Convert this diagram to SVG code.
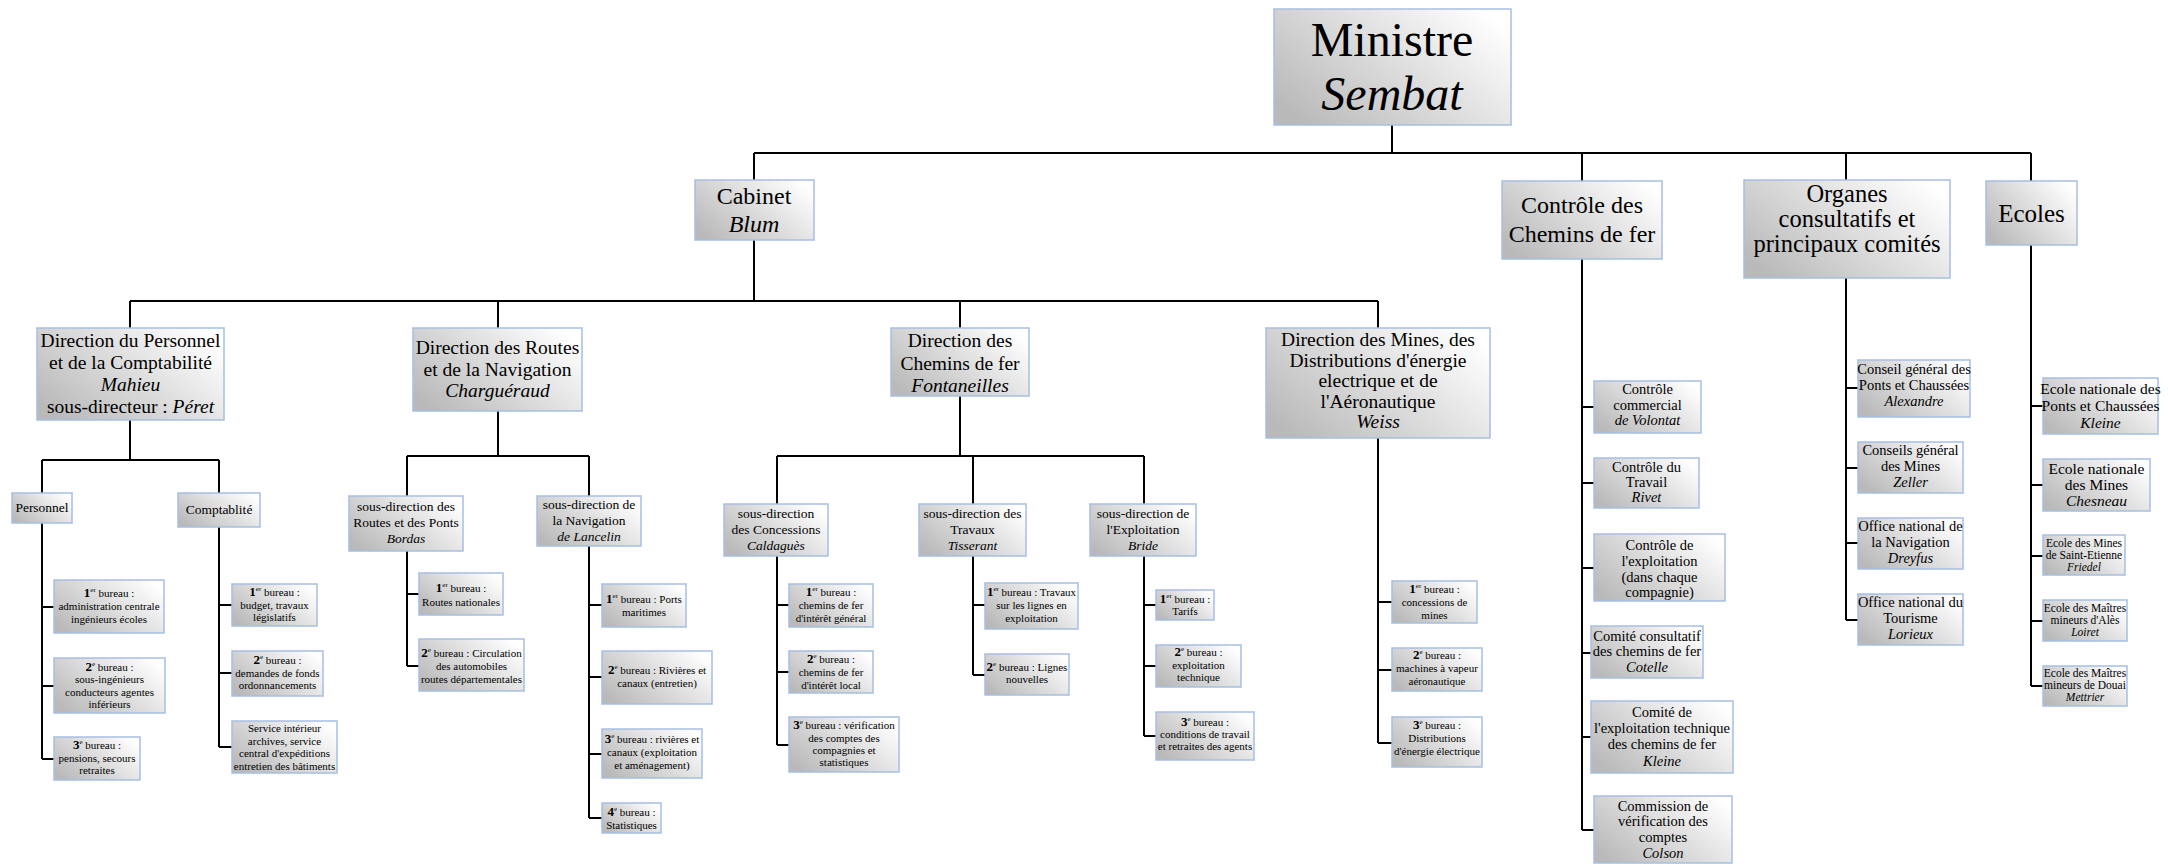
<svg xmlns="http://www.w3.org/2000/svg" width="2168" height="864" viewBox="0 0 2168 864">
<defs>
<linearGradient id="g" x1="0" y1="0.8" x2="1" y2="0.2">
<stop offset="0" stop-color="#b9b9b9"/>
<stop offset="1" stop-color="#ffffff"/>
</linearGradient>
<style>
.b{fill:url(#g);stroke:#a6bfe2;stroke-width:1.5}
text{font-family:"Liberation Serif","Times New Roman",serif;fill:#000;text-anchor:middle}
.c{stroke:#000;stroke-width:2;fill:none}
.i{font-style:italic}
.h1{font-size:48px}
.h2{font-size:24px}
.h3{font-size:19.5px}
.h4{font-size:13.5px}
.h5{font-size:14.5px}
.h6{font-size:15.5px}
.f{font-size:11px}
.fs{font-size:11.5px}
.d{font-size:13px;font-weight:bold}
.s{font-size:7px}
</style>
</defs>
<rect width="2168" height="864" fill="#fff"/>
<g id="connectors">
<path class="c" d="M1392 125V153 M754 153H2031 M754 153V180 M1582 153V181 M1846 153V180 M2031 153V181
M754 240V301 M130 301H1378 M130 301V328 M498 301V328 M960 301V328 M1378 301V328
M130 420V460 M42 460H219 M42 460V493 M219 460V493
M42 523V759 M42 607H54 M42 686H54 M42 759H54
M219 527V747 M219 605H232 M219 673H232 M219 747H232
M498 411V456 M407 456H589 M407 456V496 M589 456V496
M407 551V666 M407 594H419 M407 666H419
M589 546V818 M589 605H602 M589 677H602 M589 754H602 M589 818H602
M960 396V456 M777 456H1144 M777 456V504 M973 456V504 M1144 456V504
M777 556V745 M777 605H789 M777 672H789 M777 745H789
M973 556V675 M973 605H985 M973 675H985
M1144 556V736 M1144 605H1156 M1144 666H1156 M1144 736H1156
M1378 438V743 M1378 602H1392 M1378 670H1392 M1378 743H1392
M1582 259V830 M1582 407H1594 M1582 483H1594 M1582 568H1594 M1582 653H1591 M1582 737H1591 M1582 830H1594
M1846 278V620 M1846 388H1858 M1846 468H1858 M1846 543H1858 M1846 620H1858
M2031 245V686 M2031 406H2043 M2031 485H2043 M2031 556H2043 M2031 621H2043 M2031 686H2043"/>
</g>

<g id="ministre"><rect class="b" x="1274" y="9" width="237" height="116"/>
<text class="h1"><tspan x="1392" y="56">Ministre</tspan><tspan x="1392" y="110" class="i">Sembat</tspan></text></g>

<g id="cabinet"><rect class="b" x="695" y="180" width="119" height="60"/>
<text class="h2"><tspan x="754" y="204">Cabinet</tspan><tspan x="754" y="232" class="i">Blum</tspan></text></g>

<g id="controle"><rect class="b" x="1502" y="181" width="160" height="78"/>
<text class="h2"><tspan x="1582" y="213">Contrôle des</tspan><tspan x="1582" y="242">Chemins de fer</tspan></text></g>

<g id="organes"><rect class="b" x="1744" y="180" width="206" height="98"/>
<text class="h2" style="font-size:24.5px"><tspan x="1847" y="202">Organes</tspan><tspan x="1847" y="227">consultatifs et</tspan><tspan x="1847" y="252">principaux comités</tspan></text></g>

<g id="ecoles"><rect class="b" x="1986" y="181" width="91" height="64"/>
<text class="h2" style="font-size:25px"><tspan x="2031.5" y="222">Ecoles</tspan></text></g>

<g id="dir-personnel"><rect class="b" x="37" y="328" width="187" height="92"/>
<text class="h3"><tspan x="130.5" y="347">Direction du Personnel</tspan><tspan x="130.5" y="369">et de la Comptabilité</tspan><tspan x="130.5" y="391" class="i">Mahieu</tspan><tspan x="130.5" y="413">sous-directeur : <tspan class="i">Péret</tspan></tspan></text></g>

<g id="dir-routes"><rect class="b" x="413" y="328" width="169" height="83"/>
<text class="h3"><tspan x="497.5" y="354">Direction des Routes</tspan><tspan x="497.5" y="376">et de la Navigation</tspan><tspan x="497.5" y="397" class="i">Charguéraud</tspan></text></g>

<g id="dir-chemins"><rect class="b" x="891" y="328" width="138" height="68"/>
<text class="h3"><tspan x="960" y="347">Direction des</tspan><tspan x="960" y="370">Chemins de fer</tspan><tspan x="960" y="392" class="i">Fontaneilles</tspan></text></g>

<g id="dir-mines"><rect class="b" x="1266" y="328" width="224" height="110"/>
<text class="h3"><tspan x="1378" y="346">Direction des Mines, des</tspan><tspan x="1378" y="366.5">Distributions d'énergie</tspan><tspan x="1378" y="387">electrique et de</tspan><tspan x="1378" y="407.5">l'Aéronautique</tspan><tspan x="1378" y="428" class="i">Weiss</tspan></text></g>

<g id="personnel"><rect class="b" x="12" y="493" width="60" height="30"/>
<text class="h4"><tspan x="42" y="512">Personnel</tspan></text></g>

<g id="comptabilite"><rect class="b" x="178" y="493" width="82" height="34"/>
<text class="h4"><tspan x="219" y="514">Comptablité</tspan></text></g>

<g id="p1"><rect class="b" x="54" y="580" width="110" height="53"/>
<text class="f"><tspan x="109" y="597"><tspan class="d">1</tspan><tspan class="s" dy="-5">er</tspan><tspan dy="5"> bureau :</tspan></tspan><tspan x="109" y="610">administration centrale</tspan><tspan x="109" y="623">ingénieurs écoles</tspan></text></g>

<g id="p2"><rect class="b" x="54" y="658" width="111" height="55"/>
<text class="f"><tspan x="109.5" y="671"><tspan class="d">2</tspan><tspan class="s" dy="-5">e</tspan><tspan dy="5"> bureau :</tspan></tspan><tspan x="109.5" y="683">sous-ingénieurs</tspan><tspan x="109.5" y="695.5">conducteurs agentes</tspan><tspan x="109.5" y="708">inférieurs</tspan></text></g>

<g id="p3"><rect class="b" x="54" y="737" width="86" height="43"/>
<text class="f"><tspan x="97" y="749"><tspan class="d">3</tspan><tspan class="s" dy="-5">e</tspan><tspan dy="5"> bureau :</tspan></tspan><tspan x="97" y="761.5">pensions, secours</tspan><tspan x="97" y="774">retraites</tspan></text></g>

<g id="c1"><rect class="b" x="232" y="584" width="85" height="42"/>
<text class="f"><tspan x="274.5" y="596"><tspan class="d">1</tspan><tspan class="s" dy="-5">er</tspan><tspan dy="5"> bureau :</tspan></tspan><tspan x="274.5" y="608.5">budget, travaux</tspan><tspan x="274.5" y="621">législatifs</tspan></text></g>

<g id="c2"><rect class="b" x="232" y="651" width="91" height="45"/>
<text class="f"><tspan x="277.5" y="664"><tspan class="d">2</tspan><tspan class="s" dy="-5">e</tspan><tspan dy="5"> bureau :</tspan></tspan><tspan x="277.5" y="676.5">demandes de fonds</tspan><tspan x="277.5" y="689">ordonnancements</tspan></text></g>

<g id="c3"><rect class="b" x="232" y="721" width="105" height="52"/>
<text class="f"><tspan x="284.5" y="732">Service intérieur</tspan><tspan x="284.5" y="744.5">archives, service</tspan><tspan x="284.5" y="757">central d'expéditions</tspan><tspan x="284.5" y="769.5">entretien des bâtiments</tspan></text></g>

<g id="sd-routes"><rect class="b" x="349" y="496" width="114" height="55"/>
<text class="h4"><tspan x="406" y="511">sous-direction des</tspan><tspan x="406" y="527">Routes et des Ponts</tspan><tspan x="406" y="543" class="i">Bordas</tspan></text></g>

<g id="sd-navigation"><rect class="b" x="537" y="496" width="104" height="50"/>
<text class="h4"><tspan x="589" y="509">sous-direction de</tspan><tspan x="589" y="525">la Navigation</tspan><tspan x="589" y="541"><tspan class="i">de Lancelin</tspan></tspan></text></g>

<g id="r1"><rect class="b" x="419" y="573" width="84" height="42"/>
<text class="f"><tspan x="461" y="592"><tspan class="d">1</tspan><tspan class="s" dy="-5">er</tspan><tspan dy="5"> bureau :</tspan></tspan><tspan x="461" y="606">Routes nationales</tspan></text></g>

<g id="r2"><rect class="b" x="419" y="639" width="105" height="52"/>
<text class="f"><tspan x="471.5" y="657"><tspan class="d">2</tspan><tspan class="s" dy="-5">e</tspan><tspan dy="5"> bureau : Circulation</tspan></tspan><tspan x="471.5" y="670">des automobiles</tspan><tspan x="471.5" y="682.5">routes départementales</tspan></text></g>

<g id="n1"><rect class="b" x="602" y="584" width="84" height="43"/>
<text class="f"><tspan x="644" y="603"><tspan class="d">1</tspan><tspan class="s" dy="-5">er</tspan><tspan dy="5"> bureau : Ports</tspan></tspan><tspan x="644" y="615.5">maritimes</tspan></text></g>

<g id="n2"><rect class="b" x="602" y="651" width="110" height="53"/>
<text class="f"><tspan x="657" y="674"><tspan class="d">2</tspan><tspan class="s" dy="-5">e</tspan><tspan dy="5"> bureau : Rivières et</tspan></tspan><tspan x="657" y="687">canaux (entretien)</tspan></text></g>

<g id="n3"><rect class="b" x="602" y="729" width="100" height="49"/>
<text class="f"><tspan x="652" y="743"><tspan class="d">3</tspan><tspan class="s" dy="-5">e</tspan><tspan dy="5"> bureau : rivières et</tspan></tspan><tspan x="652" y="756">canaux (exploitation</tspan><tspan x="652" y="769">et aménagement)</tspan></text></g>

<g id="n4"><rect class="b" x="602" y="803" width="59" height="30"/>
<text class="f"><tspan x="631.5" y="816"><tspan class="d">4</tspan><tspan class="s" dy="-5">e</tspan><tspan dy="5"> bureau :</tspan></tspan><tspan x="631.5" y="829">Statistiques</tspan></text></g>

<g id="sd-concessions"><rect class="b" x="724" y="504" width="104" height="52"/>
<text class="h4"><tspan x="776" y="518">sous-direction</tspan><tspan x="776" y="534">des Concessions</tspan><tspan x="776" y="550" class="i">Caldaguès</tspan></text></g>

<g id="sd-travaux"><rect class="b" x="919" y="504" width="107" height="52"/>
<text class="h4"><tspan x="972.5" y="518">sous-direction des</tspan><tspan x="972.5" y="534">Travaux</tspan><tspan x="972.5" y="550" class="i">Tisserant</tspan></text></g>

<g id="sd-exploitation"><rect class="b" x="1090" y="504" width="106" height="52"/>
<text class="h4"><tspan x="1143" y="518">sous-direction de</tspan><tspan x="1143" y="534">l'Exploitation</tspan><tspan x="1143" y="550" class="i">Bride</tspan></text></g>

<g id="cc1"><rect class="b" x="789" y="584" width="84" height="43"/>
<text class="f"><tspan x="831" y="596"><tspan class="d">1</tspan><tspan class="s" dy="-5">er</tspan><tspan dy="5"> bureau :</tspan></tspan><tspan x="831" y="609">chemins de fer</tspan><tspan x="831" y="622">d'intérêt général</tspan></text></g>

<g id="cc2"><rect class="b" x="789" y="651" width="84" height="42"/>
<text class="f"><tspan x="831" y="663"><tspan class="d">2</tspan><tspan class="s" dy="-5">e</tspan><tspan dy="5"> bureau :</tspan></tspan><tspan x="831" y="676">chemins de fer</tspan><tspan x="831" y="689">d'intérêt local</tspan></text></g>

<g id="cc3"><rect class="b" x="789" y="717" width="110" height="55"/>
<text class="f"><tspan x="844" y="729"><tspan class="d">3</tspan><tspan class="s" dy="-5">e</tspan><tspan dy="5"> bureau : vérification</tspan></tspan><tspan x="844" y="742">des comptes des</tspan><tspan x="844" y="754">compagnies et</tspan><tspan x="844" y="766">statistiques</tspan></text></g>

<g id="t1"><rect class="b" x="985" y="583" width="93" height="46"/>
<text class="f"><tspan x="1031.5" y="596"><tspan class="d">1</tspan><tspan class="s" dy="-5">er</tspan><tspan dy="5"> bureau : Travaux</tspan></tspan><tspan x="1031.5" y="609">sur les lignes en</tspan><tspan x="1031.5" y="622">exploitation</tspan></text></g>

<g id="t2"><rect class="b" x="985" y="654" width="84" height="41"/>
<text class="f"><tspan x="1027" y="671"><tspan class="d">2</tspan><tspan class="s" dy="-5">e</tspan><tspan dy="5"> bureau : Lignes</tspan></tspan><tspan x="1027" y="683">nouvelles</tspan></text></g>

<g id="e1"><rect class="b" x="1156" y="590" width="58" height="30"/>
<text class="f"><tspan x="1185" y="603"><tspan class="d">1</tspan><tspan class="s" dy="-5">er</tspan><tspan dy="5"> bureau :</tspan></tspan><tspan x="1185" y="615">Tarifs</tspan></text></g>

<g id="e2"><rect class="b" x="1156" y="645" width="85" height="42"/>
<text class="f"><tspan x="1198.5" y="656"><tspan class="d">2</tspan><tspan class="s" dy="-5">e</tspan><tspan dy="5"> bureau :</tspan></tspan><tspan x="1198.5" y="669">exploitation</tspan><tspan x="1198.5" y="681">technique</tspan></text></g>

<g id="e3"><rect class="b" x="1156" y="712" width="98" height="48"/>
<text class="f"><tspan x="1205" y="726"><tspan class="d">3</tspan><tspan class="s" dy="-5">e</tspan><tspan dy="5"> bureau :</tspan></tspan><tspan x="1205" y="738">conditions de travail</tspan><tspan x="1205" y="750">et retraites des agents</tspan></text></g>

<g id="m1"><rect class="b" x="1392" y="581" width="85" height="42"/>
<text class="f"><tspan x="1434.5" y="593"><tspan class="d">1</tspan><tspan class="s" dy="-5">er</tspan><tspan dy="5"> bureau :</tspan></tspan><tspan x="1434.5" y="606">concessions de</tspan><tspan x="1434.5" y="619">mines</tspan></text></g>

<g id="m2"><rect class="b" x="1392" y="648" width="90" height="43"/>
<text class="f"><tspan x="1437" y="659"><tspan class="d">2</tspan><tspan class="s" dy="-5">e</tspan><tspan dy="5"> bureau :</tspan></tspan><tspan x="1437" y="672">machines à vapeur</tspan><tspan x="1437" y="685">aéronautique</tspan></text></g>

<g id="m3"><rect class="b" x="1392" y="717" width="90" height="50"/>
<text class="f"><tspan x="1437" y="729"><tspan class="d">3</tspan><tspan class="s" dy="-5">e</tspan><tspan dy="5"> bureau :</tspan></tspan><tspan x="1437" y="742">Distributions</tspan><tspan x="1437" y="755">d'énergie électrique</tspan></text></g>

<g id="k1"><rect class="b" x="1594" y="381" width="107" height="52"/>
<text class="h5"><tspan x="1647.5" y="394">Contrôle</tspan><tspan x="1647.5" y="410">commercial</tspan><tspan x="1647.5" y="425" class="i">de Volontat</tspan></text></g>

<g id="k2"><rect class="b" x="1594" y="458" width="105" height="50"/>
<text class="h5"><tspan x="1646.5" y="472">Contrôle du</tspan><tspan x="1646.5" y="487">Travail</tspan><tspan x="1646.5" y="502" class="i">Rivet</tspan></text></g>

<g id="k3"><rect class="b" x="1594" y="534" width="131" height="67"/>
<text class="h5"><tspan x="1659.5" y="550">Contrôle de</tspan><tspan x="1659.5" y="566">l'exploitation</tspan><tspan x="1659.5" y="582">(dans chaque</tspan><tspan x="1659.5" y="597">compagnie)</tspan></text></g>

<g id="k4"><rect class="b" x="1591" y="626" width="112" height="52"/>
<text class="h5"><tspan x="1647" y="641">Comité consultatif</tspan><tspan x="1647" y="656">des chemins de fer</tspan><tspan x="1647" y="672" class="i">Cotelle</tspan></text></g>

<g id="k5"><rect class="b" x="1591" y="701" width="142" height="72"/>
<text class="h5"><tspan x="1662" y="717">Comité de</tspan><tspan x="1662" y="733">l'exploitation technique</tspan><tspan x="1662" y="749">des chemins de fer</tspan><tspan x="1662" y="766" class="i">Kleine</tspan></text></g>

<g id="k6"><rect class="b" x="1594" y="796" width="138" height="67"/>
<text class="h5"><tspan x="1663" y="811">Commission de</tspan><tspan x="1663" y="826">vérification des</tspan><tspan x="1663" y="842">comptes</tspan><tspan x="1663" y="858" class="i">Colson</tspan></text></g>

<g id="o1"><rect class="b" x="1858" y="360" width="112" height="57"/>
<text class="h5"><tspan x="1914" y="374">Conseil général des</tspan><tspan x="1914" y="390">Ponts et Chaussées</tspan><tspan x="1914" y="406" class="i">Alexandre</tspan></text></g>

<g id="o2"><rect class="b" x="1858" y="442" width="105" height="51"/>
<text class="h5"><tspan x="1910.5" y="455">Conseils général</tspan><tspan x="1910.5" y="471">des Mines</tspan><tspan x="1910.5" y="487" class="i">Zeller</tspan></text></g>

<g id="o3"><rect class="b" x="1858" y="518" width="105" height="51"/>
<text class="h5"><tspan x="1910.5" y="531">Office national de</tspan><tspan x="1910.5" y="547">la Navigation</tspan><tspan x="1910.5" y="563" class="i">Dreyfus</tspan></text></g>

<g id="o4"><rect class="b" x="1858" y="594" width="105" height="51"/>
<text class="h5"><tspan x="1910.5" y="607">Office national du</tspan><tspan x="1910.5" y="623">Tourisme</tspan><tspan x="1910.5" y="639" class="i">Lorieux</tspan></text></g>

<g id="s1"><rect class="b" x="2043" y="378" width="115" height="56"/>
<text class="h6"><tspan x="2100.5" y="394">Ecole nationale des</tspan><tspan x="2100.5" y="411">Ponts et Chaussées</tspan><tspan x="2100.5" y="428" class="i">Kleine</tspan></text></g>

<g id="s2"><rect class="b" x="2043" y="459" width="107" height="52"/>
<text class="h6"><tspan x="2096.5" y="474">Ecole nationale</tspan><tspan x="2096.5" y="490">des Mines</tspan><tspan x="2096.5" y="506" class="i">Chesneau</tspan></text></g>

<g id="s3"><rect class="b" x="2043" y="535" width="82" height="40"/>
<text class="fs"><tspan x="2084" y="547">Ecole des Mines</tspan><tspan x="2084" y="559">de Saint-Etienne</tspan><tspan x="2084" y="571" class="i">Friedel</tspan></text></g>

<g id="s4"><rect class="b" x="2043" y="600" width="84" height="41"/>
<text class="fs"><tspan x="2085" y="612">Ecole des Maîtres</tspan><tspan x="2085" y="624">mineurs d'Alès</tspan><tspan x="2085" y="636" class="i">Loiret</tspan></text></g>

<g id="s5"><rect class="b" x="2043" y="666" width="84" height="40"/>
<text class="fs"><tspan x="2085" y="677">Ecole des Maîtres</tspan><tspan x="2085" y="689">mineurs de Douai</tspan><tspan x="2085" y="701" class="i">Mettrier</tspan></text></g>
</svg>
